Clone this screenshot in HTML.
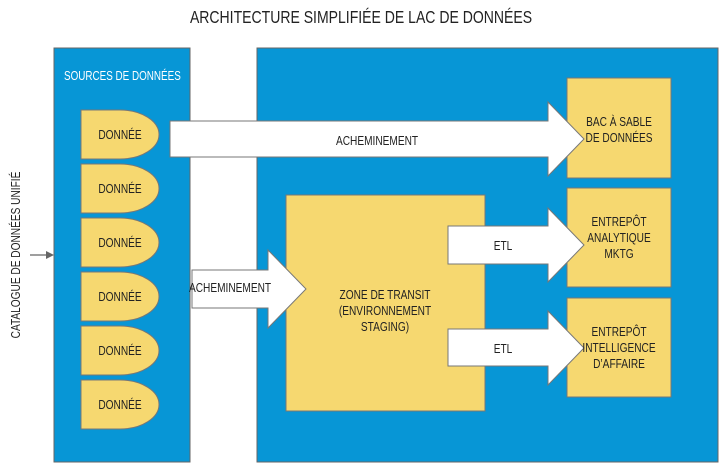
<!DOCTYPE html>
<html><head><meta charset="utf-8"><style>
html,body{margin:0;padding:0;background:#fff;}
svg{display:block;}
text{font-family:"Liberation Sans",sans-serif;fill:#222;}
</style></head><body>
<svg width="723" height="468" viewBox="0 0 723 468" xmlns="http://www.w3.org/2000/svg">
<text font-size="18" text-anchor="middle" transform="translate(361 23) scale(0.78 1)">ARCHITECTURE SIMPLIFIÉE DE LAC DE DONNÉES</text>
<rect x="54" y="48" width="136" height="414" fill="#0796d6" stroke="#666" stroke-width="1"/>
<rect x="257" y="48" width="461" height="414" fill="#0796d6" stroke="#666" stroke-width="1"/>
<text font-size="13" style="fill:#fff" transform="translate(64 80) scale(0.76 1)">SOURCES DE DONNÉES</text>
<g fill="#f6d870" stroke="#777" stroke-width="1">
<path d="M81 110 H120 A39 24.5 0 0 1 120 159 H81 Z"/>
<path d="M81 164 H120 A39 24.5 0 0 1 120 213 H81 Z"/>
<path d="M81 218 H120 A39 24.5 0 0 1 120 267 H81 Z"/>
<path d="M81 272 H120 A39 24.5 0 0 1 120 321 H81 Z"/>
<path d="M81 326 H120 A39 24.5 0 0 1 120 375 H81 Z"/>
<path d="M81 380 H120 A39 24.5 0 0 1 120 429 H81 Z"/>
</g>
<g font-size="13" text-anchor="middle">
<text transform="translate(120 139) scale(0.78 1)">DONNÉE</text>
<text transform="translate(120 193) scale(0.78 1)">DONNÉE</text>
<text transform="translate(120 247) scale(0.78 1)">DONNÉE</text>
<text transform="translate(120 301) scale(0.78 1)">DONNÉE</text>
<text transform="translate(120 355) scale(0.78 1)">DONNÉE</text>
<text transform="translate(120 409) scale(0.78 1)">DONNÉE</text>
</g>
<g fill="#f6d870" stroke="#777" stroke-width="1">
<rect x="567" y="78" width="104" height="100"/>
<rect x="567" y="188" width="104" height="99"/>
<rect x="567" y="298" width="104" height="99"/>
<rect x="286" y="195" width="199" height="216"/>
</g>
<g fill="#fff" stroke="#777" stroke-width="1">
<path d="M170 121 H548 V102 L584 139 L548 176 V157 H170 Z"/>
<path d="M192 270 H268 V250 L306 289 L268 328 V308 H192 Z"/>
<path d="M448 226 H548 V208 L584 245 L548 282 V264 H448 Z"/>
<path d="M448 329 H548 V311 L584 348 L548 385 V366 H448 Z"/>
</g>
<g font-size="13" text-anchor="middle">
<text transform="translate(377 145) scale(0.78 1)">ACHEMINEMENT</text>
<text transform="translate(230 292) scale(0.78 1)">ACHEMINEMENT</text>
<text transform="translate(503 250) scale(0.78 1)">ETL</text>
<text transform="translate(503 353) scale(0.78 1)">ETL</text>
<text transform="translate(619 126) scale(0.78 1)">BAC À SABLE</text>
<text transform="translate(619 142) scale(0.78 1)">DE DONNÉES</text>
<text transform="translate(619 226) scale(0.78 1)">ENTREPÔT</text>
<text transform="translate(619 242) scale(0.78 1)">ANALYTIQUE</text>
<text transform="translate(619 258) scale(0.78 1)">MKTG</text>
<text transform="translate(619 336) scale(0.78 1)">ENTREPÔT</text>
<text transform="translate(619 352) scale(0.78 1)">INTELLIGENCE</text>
<text transform="translate(619 368) scale(0.78 1)">D’AFFAIRE</text>
<text transform="translate(385 299) scale(0.78 1)">ZONE DE TRANSIT</text>
<text transform="translate(385 315) scale(0.78 1)">(ENVIRONNEMENT</text>
<text transform="translate(385 331) scale(0.78 1)">STAGING)</text>
</g>
<text font-size="13" text-anchor="middle" transform="translate(20 255) rotate(-90) scale(0.78 1)">CATALOGUE DE DONNÉES UNIFIÉ</text>
<line x1="30" y1="255" x2="48" y2="255" stroke="#666" stroke-width="1.2"/>
<path d="M54 255 L46 251 L46 259 Z" fill="#666"/>
</svg>
</body></html>
